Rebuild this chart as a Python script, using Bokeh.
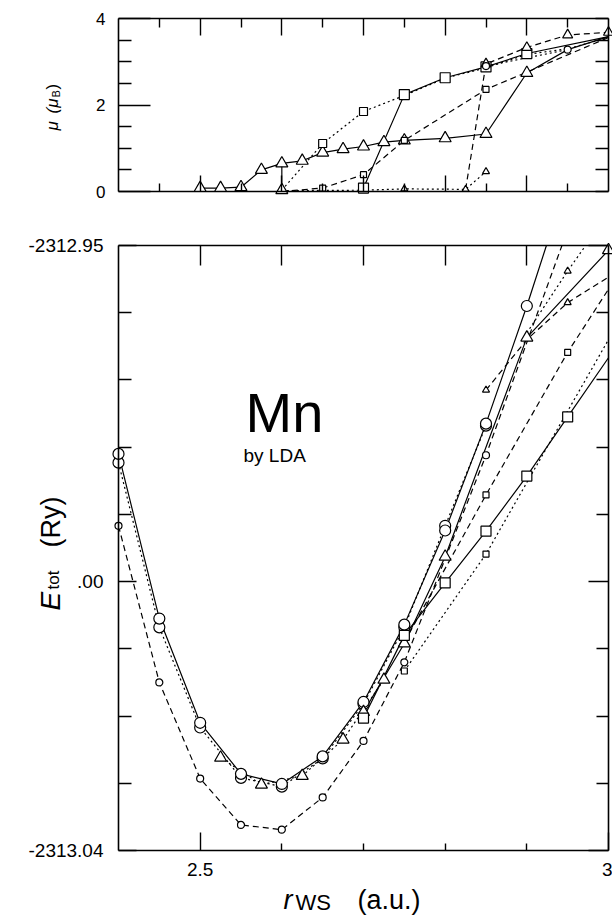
import math
from bokeh.plotting import figure
from bokeh.models import Range1d, LinearAxis, FixedTicker, Label, CustomJSTickFormatter
from bokeh.embed import file_html
from bokeh.resources import INLINE

FONT = "Liberation Sans"

# ---------------- data: top panel, magnetic moment mu (mu_B) vs r_WS (a.u.) ----------------
mu_x_tri_solid = [2.5, 2.525, 2.55, 2.575, 2.6, 2.625, 2.65, 2.675, 2.7, 2.725, 2.75, 2.8, 2.85, 2.9, 2.95, 3.0]
mu_tri_solid = [0.08, 0.08, 0.10, 0.50, 0.65, 0.71, 0.90, 0.98, 1.04, 1.14, 1.18, 1.23, 1.33, 2.74, 3.28, 3.58]
mu_x_tri_vert = [2.6, 2.6]
mu_tri_vert = [0.03, 0.65]
mu_x_sq_solid = [2.7, 2.75, 2.8, 2.85, 2.9, 3.0]
mu_sq_solid = [0.08, 2.24, 2.63, 2.88, 3.19, 3.58]
mu_x_sq_dot = [2.6, 2.65, 2.7, 2.75, 2.8, 2.85, 2.9, 2.95, 3.0]
mu_sq_dot = [0.03, 1.11, 1.85, 2.22, 2.62, 2.86, 3.17, 3.30, 3.56]
mu_x_sq_dash = [2.6, 2.65, 2.7, 2.75, 2.85, 3.0]
mu_sq_dash = [0.0, 0.08, 0.39, 1.18, 2.36, 3.56]
mu_x_tri_dot = [2.6, 2.7, 2.75, 2.825, 2.85]
mu_tri_dot = [0.02, 0.03, 0.06, 0.05, 0.46]
mu_x_tri_dash = [2.825, 2.85, 2.9, 2.95, 3.0]
mu_tri_dash = [0.05, 2.95, 3.33, 3.62, 3.68]
mu_x_circ = [2.85, 2.95]
mu_circ = [2.90, 3.28]

# ---------------- data: bottom panel, E_tot in mRy relative to -2313.00 Ry ----------------
# (the last point of some curves is where the curve leaves the box at the top)
e_x_circ_solid = [2.4, 2.45, 2.5, 2.55, 2.6, 2.65, 2.7, 2.75, 2.8, 2.85, 2.9, 2.924]
e_circ_solid = [19.0, -5.5, -21.0, -28.6, -30.1, -26.0, -17.9, -6.4, 7.6, 23.5, 41.0, 50.0]
e_x_circ_dot = [2.4, 2.45, 2.5, 2.55, 2.6, 2.65, 2.7, 2.75, 2.8, 2.85]
e_circ_dot = [17.7, -6.8, -21.7, -29.2, -30.5, -26.3, -18.2, -6.8, 8.3, 23.2]
e_x_scirc_dash = [2.4, 2.45, 2.5, 2.55, 2.6, 2.65, 2.7, 2.75, 2.85, 2.943]
e_scirc_dash = [8.3, -15.0, -29.3, -36.2, -36.9, -32.1, -23.7, -12.0, 18.8, 50.0]
e_x_tri_dot = [2.525, 2.575, 2.625, 2.675, 2.725]
e_tri_dot = [-26.2, -30.2, -28.9, -23.5, -14.6]
e_x_tri_solid = [2.7, 2.75, 2.8, 2.9, 3.0]
e_tri_solid = [-19.4, -9.2, 3.7, 36.3, 49.3]
e_x_stri_dash = [2.85, 2.9, 2.95, 3.0]
e_stri_dash = [28.5, 36.0, 41.5, 45.3]
e_x_stri_dot = [2.9, 2.95, 2.972]
e_stri_dot = [37.0, 46.2, 50.0]
e_x_sq_solid = [2.7, 2.75, 2.8, 2.85, 2.9, 2.95, 3.0]
e_sq_solid = [-20.3, -8.0, -0.2, 7.5, 15.7, 24.5, 33.3]
e_x_ssq_dash = [2.75, 2.85, 2.95, 3.0]
e_ssq_dash = [-9.0, 12.9, 34.1, 43.5]
e_x_ssq_dot = [2.75, 2.85, 3.0]
e_ssq_dot = [-13.3, 4.1, 36.0]

e_ticks_major = [-40, 0, 50]
e_ticks_minor = [-30, -20, -10, 10, 20, 30, 40]
e_tick_labels = {-40: "-2313.04", 0: ".00", 50: "-2312.95"}
mu_ticks_major = [0, 2, 4]
mu_ticks_minor = [0.5, 1, 1.5, 2.5, 3, 3.5]
r_ticks_major = [2.5, 2.6, 2.7, 2.8, 2.9]
r_ticks_minor = [2.45, 2.55, 2.65, 2.75, 2.85, 2.95]

# ---------------- layout (page pixels) ----------------
W, H = 612, 916
BOX_L, BOX_R = 118, 608          # both panels, x = 2.4 .. 3.0
TOP_T, TOP_B = 18, 191           # mu panel, 4 .. 0
BOT_T, BOT_B = 245, 850          # energy panel, 50 .. -40 mRy
X0, X1 = 2.4, 3.0
MU0, MU1 = 0.0, 4.0
E0, E1 = -40.0, 50.0

kx = (BOX_R - BOX_L) / (X1 - X0)
ke = (BOT_B - BOT_T) / (E1 - E0)
km = (TOP_B - TOP_T) / (MU1 - MU0)
x_range = Range1d(X0 - BOX_L / kx, X1 + (W - BOX_R) / kx)
e_range = Range1d(E0 - (H - BOT_B) / ke, E1 + BOT_T / ke)
mu_range = Range1d(MU0 - (H - TOP_B) / km, MU1 + TOP_T / km)

p = figure(width=W, height=H, x_range=x_range, y_range=e_range,
           min_border=0, min_border_left=0, min_border_right=0, min_border_top=0, min_border_bottom=0,
           output_backend="svg", toolbar_location=None,
           x_axis_location=None, y_axis_location=None)
p.extra_y_ranges = {"mu": mu_range}
p.xgrid.visible = False
p.ygrid.visible = False
p.outline_line_color = None
p.background_fill_color = "white"
p.border_fill_color = "white"

EPS = 1e-4
SOLID, DASH, DOT = "solid", "6 4", "2 3"
SIZES = {("circle", "L"): 11, ("circle", "S"): 7, ("triangle", "L"): 12, ("triangle", "M"): 10,
         ("triangle", "S"): 7, ("square", "L"): 10, ("square", "M"): 8, ("square", "S"): 6}


def axis(side, loc, bounds, ticks, minor, tin, mtin, rname="default", labels=True,
         fsize="17px", standoff=12, fmt=None, overrides=None):
    ax = LinearAxis(fixed_location=loc, bounds=bounds, y_range_name=rname,
                    ticker=FixedTicker(ticks=ticks, minor_ticks=minor),
                    major_tick_in=tin, major_tick_out=0, minor_tick_in=mtin, minor_tick_out=0,
                    axis_line_width=1.6, axis_line_color="black",
                    major_tick_line_width=1.4, minor_tick_line_width=1.4,
                    major_tick_line_color="black", minor_tick_line_color="black",
                    major_label_text_font=FONT, major_label_text_font_size=fsize,
                    major_label_text_color="black", major_label_standoff=standoff)
    if not labels:
        ax.formatter = CustomJSTickFormatter(code="return ''")
        ax.major_label_standoff = 0
    elif fmt is not None:
        ax.formatter = fmt
    if overrides is not None:
        ax.major_label_overrides = overrides
    p.add_layout(ax, side)


xb = (X0 - EPS, X1 + EPS)
# top panel axes (mu)
axis("left", X0, (MU0 - EPS, MU1 + EPS), mu_ticks_major, mu_ticks_minor, 32, 13, rname="mu",
     fsize="17px", standoff=13)
axis("right", X1, (MU0 - EPS, MU1 + EPS), mu_ticks_major, mu_ticks_minor, 13, 13, rname="mu", labels=False)
axis("above", MU1, xb, r_ticks_major, r_ticks_minor, 17, 9, rname="mu", labels=False)
axis("below", MU0, xb, r_ticks_major, r_ticks_minor, 16, 8, rname="mu", labels=False)
# bottom panel axes (energy)
axis("left", X0, (E0 - EPS, E1 + EPS), e_ticks_major, e_ticks_minor, 18, 13, fsize="19px",
     standoff=15, overrides=e_tick_labels)
axis("right", X1, (E0 - EPS, E1 + EPS), e_ticks_major, e_ticks_minor, 20, 12, labels=False)
axis("above", E1, xb, r_ticks_major, [], 20, 0, labels=False)
axis("below", E0, xb, [2.5, 3.0], [2.6, 2.7, 2.8, 2.9], 18, 7, fsize="19px", standoff=12,
     fmt=CustomJSTickFormatter(code="return Math.abs(tick - 3) < 1e-9 ? '3' : tick.toFixed(1)"))

markers = []


def series(xs, ys, dash, marker, sz, marks, rname="default"):
    p.line(xs, ys, line_color="black", line_width=1.2, line_dash=dash, y_range_name=rname)
    markers.append(([xs[i] for i in marks], [ys[i] for i in marks], marker, SIZES[(marker, sz)], rname))


# top panel
series(mu_x_tri_solid, mu_tri_solid, SOLID, "triangle", "L", list(range(14)), "mu")
series(mu_x_tri_vert, mu_tri_vert, SOLID, "triangle", "L", [0], "mu")
series(mu_x_sq_solid, mu_sq_solid, SOLID, "square", "L", [0, 1, 2, 3, 4], "mu")
series(mu_x_sq_dot, mu_sq_dot, DOT, "square", "M", [1, 2], "mu")
series(mu_x_sq_dash, mu_sq_dash, DASH, "square", "S", [1, 2, 3, 4], "mu")
series(mu_x_tri_dot, mu_tri_dot, DOT, "triangle", "S", [2, 3, 4], "mu")
series(mu_x_tri_dash, mu_tri_dash, DASH, "triangle", "M", [1, 2, 3, 4], "mu")
series(mu_x_circ, mu_circ, DOT, "circle", "S", [0, 1], "mu")
# bottom panel
series(e_x_circ_dot, e_circ_dot, DOT, "circle", "L", list(range(10)))
series(e_x_circ_solid, e_circ_solid, SOLID, "circle", "L", list(range(11)))
series(e_x_scirc_dash, e_scirc_dash, DASH, "circle", "S", list(range(9)))
series(e_x_tri_dot, e_tri_dot, DOT, "triangle", "L", list(range(5)))
series(e_x_tri_solid, e_tri_solid, SOLID, "triangle", "L", [0, 1, 2, 3, 4])
series(e_x_stri_dash, e_stri_dash, DASH, "triangle", "S", [0, 2])
series(e_x_stri_dot, e_stri_dot, DOT, "triangle", "S", [1])
series(e_x_sq_solid, e_sq_solid, SOLID, "square", "L", list(range(6)))
series(e_x_ssq_dash, e_ssq_dash, DASH, "square", "S", [1, 2])
series(e_x_ssq_dot, e_ssq_dot, DOT, "square", "S", [0, 1])

for mx, my, marker, size, rname in markers:
    p.scatter(mx, my, marker=marker, size=size, fill_color="white",
              line_color="black", line_width=1.2, y_range_name=rname)

# texts, positions in page pixels (x from left, y = baseline from top)
R90 = math.pi / 2
texts = [
    ("Mn", 245, 412, "56px", "normal", 0.0),
    ("by LDA", 243, 455, "19px", "normal", 0.0),
    ("\u03bc", 52, 130, "17px", "italic", R90),
    ("(\u03bc", 52, 113, "17px", "italic", R90),
    ("B", 55, 97, "11px", "normal", R90),
    (")", 52, 89, "17px", "normal", R90),
    ("E", 50, 610, "28px", "italic", R90),
    ("tot", 53, 589, "17px", "normal", R90),
    ("(Ry)", 50, 547, "27px", "normal", R90),
    ("r", 283, 899, "27px", "italic", 0.0),
    ("WS", 295, 902, "22px", "normal", 0.0),
    ("(a.u.)", 357, 899, "27px", "normal", 0.0),
]
for txt, x, y, fs, st, ang in texts:
    p.add_layout(Label(x=x, y=H - y, x_units="screen", y_units="screen", text=txt, angle=ang,
                       text_font=FONT, text_font_size=fs, text_font_style=st, text_color="black",
                       text_baseline="alphabetic", text_align="left"))

open("out.html", "w").write(file_html(p, INLINE))
